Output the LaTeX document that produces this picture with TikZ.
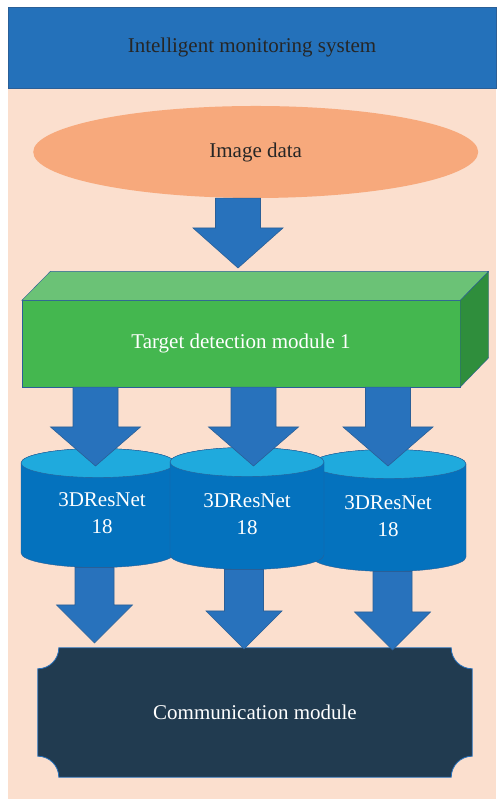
\documentclass[tikz,border=0pt]{standalone}
\usepackage{fontspec}
\setmainfont{Liberation Serif}
\usetikzlibrary{shapes.geometric,calc,backgrounds}

\definecolor{sysblue}{HTML}{2471BA}
\definecolor{edgeblue}{HTML}{2A5F97}
\definecolor{peach}{HTML}{FBDFCE}
\definecolor{salmon}{HTML}{F7A97C}
\definecolor{arrowblue}{HTML}{2872BC}
\definecolor{greenfront}{HTML}{44B74F}
\definecolor{greentop}{HTML}{6BC276}
\definecolor{greenside}{HTML}{2F8E3C}
\definecolor{drumblue}{HTML}{0472BE}
\definecolor{drumcap}{HTML}{1FAADD}
\definecolor{navy}{HTML}{213B50}
\definecolor{inkgray}{HTML}{262626}

% block arrow: start, tip, half body width, half head width, head length
\newcommand\fatarrow[5]{%
  \filldraw[fatarrow] let \p1=(#1), \p2=(#2) in
    (\x2-#3,\y1) -- (\x2-#3,\y2+#5) -- (\x2-#4,\y2+#5) -- (\x2,\y2)
    -- (\x2+#4,\y2+#5) -- (\x2+#3,\y2+#5) -- (\x2+#3,\y1) -- cycle;}

% drum: name, centre x, y of top end, y of bottom end
\newcommand\drum[4]{%
  \begin{scope}[on background layer]
    \filldraw[drumbody] (#2-77,#3) -- (#2-77,#4)
      arc[start angle=180,end angle=360,x radius=77,y radius=14.5]
      -- (#2+77,#3)
      arc[start angle=0,end angle=180,x radius=77,y radius=14.5] -- cycle;
    \filldraw[drumlid] (#2,#3) ellipse[x radius=77,y radius=14.5];
  \end{scope}
  \coordinate (#1-top) at (#2,#3+14.5);
  \coordinate (#1-bot) at (#2,#4-14.5);}

\begin{document}
\begin{tikzpicture}[x=1pt,y=1pt,
    font=\fontsize{21}{27}\selectfont,
    banner/.style={draw=edgeblue,fill=sysblue,text=inkgray,
      minimum width=488pt,minimum height=81pt,inner sep=0pt},
    source/.style={ellipse,fill=salmon,text=inkgray,
      minimum width=445pt,minimum height=92pt,inner sep=0pt},
    detect/.style={draw=edgeblue,fill=greenfront,text=white,
      minimum width=438pt,minimum height=86.3pt,inner sep=0pt},
    detecttop/.style={draw=edgeblue,fill=greentop},
    detectside/.style={draw=edgeblue,fill=greenside},
    fatarrow/.style={draw=edgeblue,fill=arrowblue,line width=0.6pt},
    drumbody/.style={draw=edgeblue,fill=drumblue},
    drumlid/.style={draw=edgeblue,fill=drumcap},
    nettext/.style={text=white,align=center,inner sep=0pt},
    plaque/.style={draw=arrowblue,fill=navy,line width=0.8pt},
    commtext/.style={text=white,minimum width=434pt,minimum height=129pt,inner sep=0pt}
  ]
  \useasboundingbox (0,0) rectangle (496,799);
  \begin{scope}[on background layer]
    \fill[peach] (8,0) rectangle (496,711);
  \end{scope}

  \node[banner] (sys) at (252,751.5) {Intelligent monitoring system};
  \node[source] (img) at (255.7,647) {Image data};

  % 3d block
  \node[detect] (tdm) at (241,455.2) {Target detection module 1};
  \filldraw[detecttop] (tdm.north west) -- ++(28.5,29) -- ++(438,0)
    -- (tdm.north east) -- cycle;
  \filldraw[detectside] (tdm.north east) -- ++(28.5,29) -- ++(0,-86.3)
    -- (tdm.south east) -- cycle;

  \coordinate (t0) at (238,531);
  \fatarrow{img.south}{t0}{22.5pt}{45pt}{40pt}

  % three drums, the middle one in front
  \drum{n1}{98}{336}{246}
  \drum{n3}{389}{335}{242}
  \drum{n2}{247}{337}{244}
  \node[nettext] (net1) at (102,286) {3DResNet\\18};
  \node[nettext] (net2) at (247,285) {3DResNet\\18};
  \node[nettext] (net3) at (388,282.5) {3DResNet\\18};

  \coordinate (d1) at (95.5,333);
  \coordinate (d2) at (253.5,333);
  \coordinate (d3) at (388,333);
  \fatarrow{tdm.south}{d1}{22.5pt}{45pt}{39pt}
  \fatarrow{tdm.south}{d2}{22.5pt}{45pt}{39pt}
  \fatarrow{tdm.south}{d3}{22.5pt}{45pt}{39pt}

  \node[commtext] (comm) at (255,86.5) {Communication module};
  \begin{scope}[on background layer]
    \filldraw[plaque] ([xshift=21pt]comm.north west) -- ([xshift=-21pt]comm.north east)
      arc[start angle=180,end angle=270,radius=21]
      -- ([yshift=21pt]comm.south east)
      arc[start angle=90,end angle=180,radius=21]
      -- ([xshift=21pt]comm.south west)
      arc[start angle=0,end angle=90,radius=21]
      -- ([yshift=-21pt]comm.north west)
      arc[start angle=270,end angle=360,radius=21] -- cycle;
  \end{scope}

  \coordinate (u1) at (94.5,156);
  \coordinate (u2) at (244,150);
  \coordinate (u3) at (392.5,149);
  \fatarrow{n1-bot}{u1}{19.5pt}{38pt}{38pt}
  \fatarrow{n2-bot}{u2}{19.5pt}{38pt}{38pt}
  \fatarrow{n3-bot}{u3}{19.5pt}{38pt}{38pt}
\end{tikzpicture}
\end{document}
